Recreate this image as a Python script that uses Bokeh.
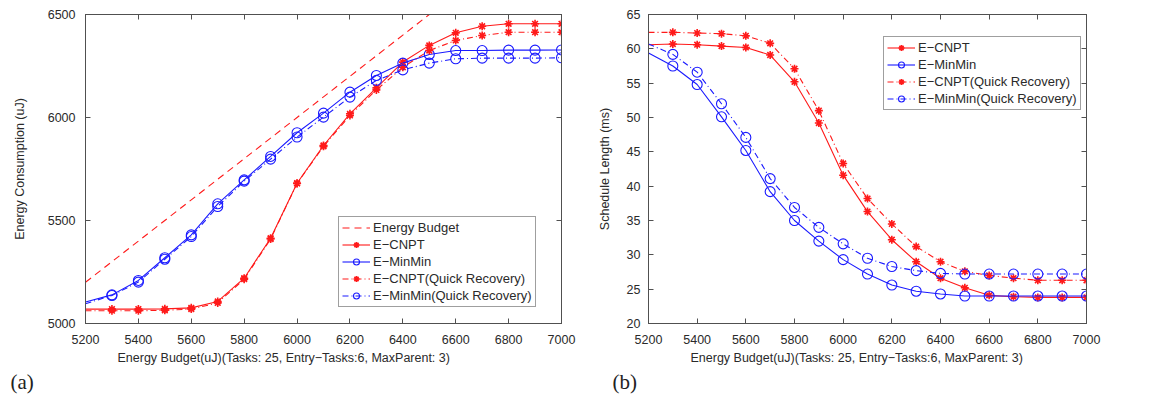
from bokeh.plotting import figure
from bokeh.layouts import row
from bokeh.models import (Legend, LegendItem, LinearAxis, FixedTicker, Title,
                          Range1d, CustomJSTickFormatter)
from bokeh.embed import file_html
from bokeh.resources import INLINE

# ---------------- data ----------------
budget = [5200, 5300, 5400, 5500, 5600, 5700, 5800, 5900, 6000, 6100,
          6200, 6300, 6400, 6500, 6600, 6700, 6800, 6900, 7000]
energy_budget = budget  # consumption equal to the budget (upper bound line)

ecnpt_energy = [5070, 5070, 5070, 5071, 5076, 5107, 5220, 5414, 5681, 5864,
                6018, 6144, 6269, 6350, 6411, 6443, 6455, 6455, 6455]
emin_energy = [5104, 5139, 5209, 5319, 5430, 5581, 5697, 5811, 5926, 6021,
               6123, 6204, 6264, 6306, 6325, 6325, 6327, 6327, 6328]
ecnpt_qr_energy = [5062, 5062, 5062, 5064, 5070, 5100, 5215, 5410, 5680, 5860,
                   6010, 6134, 6244, 6325, 6374, 6398, 6414, 6414, 6414]
emin_qr_energy = [5096, 5136, 5201, 5312, 5422, 5568, 5691, 5798, 5905, 6002,
                  6099, 6180, 6231, 6264, 6285, 6288, 6288, 6288, 6290]

ecnpt_len = [60.6, 60.7, 60.6, 60.4, 60.2, 59.1, 55.2, 49.2, 41.6, 36.3,
             32.2, 29.0, 26.6, 25.2, 24.1, 23.9, 23.8, 23.8, 23.8]
emin_len = [59.4, 57.5, 54.8, 50.1, 45.2, 39.2, 35.0, 32.0, 29.3, 27.2,
            25.6, 24.7, 24.3, 24.0, 24.0, 24.0, 24.0, 24.0, 24.0]
ecnpt_qr_len = [62.4, 62.4, 62.3, 62.2, 61.9, 60.8, 57.1, 51.0, 43.3, 38.2,
                34.5, 31.2, 29.0, 27.6, 27.0, 26.6, 26.3, 26.3, 26.3]
emin_qr_len = [60.7, 59.2, 56.6, 52.0, 47.1, 41.1, 36.9, 34.0, 31.6, 29.5,
               28.3, 27.7, 27.3, 27.2, 27.2, 27.2, 27.2, 27.2, 27.2]

x_ticks = [5200, 5400, 5600, 5800, 6000, 6200, 6400, 6600, 6800, 7000]
energy_ticks = [5000, 5500, 6000, 6500]
length_ticks = [20, 25, 30, 35, 40, 45, 50, 55, 60, 65]

x_title = "Energy Budget(uJ)(Tasks: 25, Entry\u2212Tasks:6, MaxParent: 3)"
names = ["E\u2212CNPT", "E\u2212MinMin", "E\u2212CNPT(Quick Recovery)",
         "E\u2212MinMin(Quick Recovery)"]

# ---------------- styling ----------------
FONT = "Liberation Sans"
RED = "#ff1a1a"
BLUE = "#1a1aff"
FRAME = "#505050"
TXT = "#2a2a2a"


def make_fig(width, bl, br, yr, yticks, ylabel, ylab_standoff, ytick_standoff,
             xtitle_offset, tag, tag_offset):
    p = figure(width=width, height=396, x_range=Range1d(5200, 7000),
               y_range=Range1d(*yr), output_backend="svg",
               toolbar_location=None, min_border_left=bl,
               min_border_right=br, min_border_top=14, min_border_bottom=73)
    p.xgrid.visible = False
    p.ygrid.visible = False
    p.outline_line_color = FRAME
    p.background_fill_color = "white"
    p.border_fill_color = "white"
    p.xaxis.ticker = FixedTicker(ticks=x_ticks)
    p.yaxis.ticker = FixedTicker(ticks=yticks)
    p.yaxis.axis_label = ylabel
    for ax in (p.xaxis, p.yaxis):
        ax.major_tick_in = 5
        ax.major_tick_out = 0
        ax.minor_tick_line_color = None
        ax.axis_line_color = FRAME
        ax.major_tick_line_color = FRAME
        ax.major_label_text_font = FONT
        ax.major_label_text_font_size = "12.5px"
        ax.major_label_text_color = TXT
        ax.axis_label_text_font = FONT
        ax.axis_label_text_font_size = "12.5px"
        ax.axis_label_text_font_style = "normal"
        ax.axis_label_text_color = TXT
    p.xaxis.major_label_standoff = 11
    p.yaxis.major_label_standoff = ytick_standoff
    p.yaxis.axis_label_standoff = ylab_standoff
    # mirrored ticks on top and right
    blank = CustomJSTickFormatter(code="return ''")
    top = LinearAxis(ticker=FixedTicker(ticks=x_ticks), formatter=blank)
    right = LinearAxis(ticker=FixedTicker(ticks=yticks), formatter=blank)
    for ax in (top, right):
        ax.major_tick_in = 5
        ax.major_tick_out = 0
        ax.minor_tick_line_color = None
        ax.axis_line_color = FRAME
        ax.major_tick_line_color = FRAME
        ax.major_label_standoff = 0
        ax.major_label_text_font_size = "1px"
    p.add_layout(top, "above")
    p.add_layout(right, "right")
    # x-axis title (positioned as in the original) and panel tag
    p.add_layout(Title(text=x_title, align="left", offset=xtitle_offset,
                       text_font=FONT, text_font_size="12.5px",
                       text_font_style="normal", text_color=TXT,
                       standoff=4), "below")
    p.add_layout(Title(text=tag, align="left", offset=tag_offset,
                       text_font="Liberation Serif", text_font_size="21px",
                       text_font_style="normal", text_color="#222222",
                       standoff=2), "below")
    return p


def series(p, ys, color, dash, marker, size, label_items, name):
    ln = p.line(budget, ys, line_color=color, line_width=1.1, line_dash=dash)
    if marker == "circle":
        sc = p.scatter(budget[1:], ys[1:], marker="circle", size=size,
                       line_color=color, fill_color=None, line_width=1.1)
    else:
        sc = p.scatter(budget[1:], ys[1:], marker="asterisk", size=size,
                       line_color=color, line_width=1.6)
    label_items.append(LegendItem(label=name, renderers=[ln, sc]))


def style_legend(lg):
    lg.border_line_color = "#404040"
    lg.border_line_width = 1
    lg.background_fill_color = "white"
    lg.background_fill_alpha = 1
    lg.label_text_font = FONT
    lg.label_text_font_size = "13px"
    lg.label_text_color = TXT
    lg.label_height = 15
    lg.glyph_height = 15
    lg.glyph_width = 28
    lg.label_standoff = 3
    lg.spacing = 2
    lg.padding = 3
    lg.margin = 0


# ---------------- panel (a) ----------------
pa = make_fig(590, 85, 29, (5000, 6500), energy_ticks,
              "Energy Consumption (uJ)", 18, 10, 32, "(a)", -75)
items_a = []
bl = pa.line(budget, energy_budget, line_color=RED, line_width=1.1,
             line_dash="7 5")
items_a.append(LegendItem(label="Energy Budget", renderers=[bl]))
series(pa, ecnpt_energy, RED, "solid", "asterisk", 8, items_a, names[0])
series(pa, emin_energy, BLUE, "solid", "circle", 10, items_a, names[1])
series(pa, ecnpt_qr_energy, RED, "6 3 1 3", "asterisk", 8, items_a, names[2])
series(pa, emin_qr_energy, BLUE, "6 3 1 3", "circle", 10, items_a, names[3])
lga = Legend(items=items_a, location=(253, 16))
style_legend(lga)
pa.add_layout(lga, "center")

# ---------------- panel (b) ----------------
pb = make_fig(560, 58, 64, (20, 65), length_ticks,
              "Schedule Length (ms)", 12, 8, 42, "(b)", -36)
items_b = []
series(pb, ecnpt_len, RED, "solid", "asterisk", 8, items_b, names[0])
series(pb, emin_len, BLUE, "solid", "circle", 10, items_b, names[1])
series(pb, ecnpt_qr_len, RED, "6 3 1 3", "asterisk", 8, items_b, names[2])
series(pb, emin_qr_len, BLUE, "6 3 1 3", "circle", 10, items_b, names[3])
lgb = Legend(items=items_b, location=(235, 213))
style_legend(lgb)
pb.add_layout(lgb, "center")

layout = row(pa, pb)
open("out.html", "w").write(file_html(layout, INLINE))
